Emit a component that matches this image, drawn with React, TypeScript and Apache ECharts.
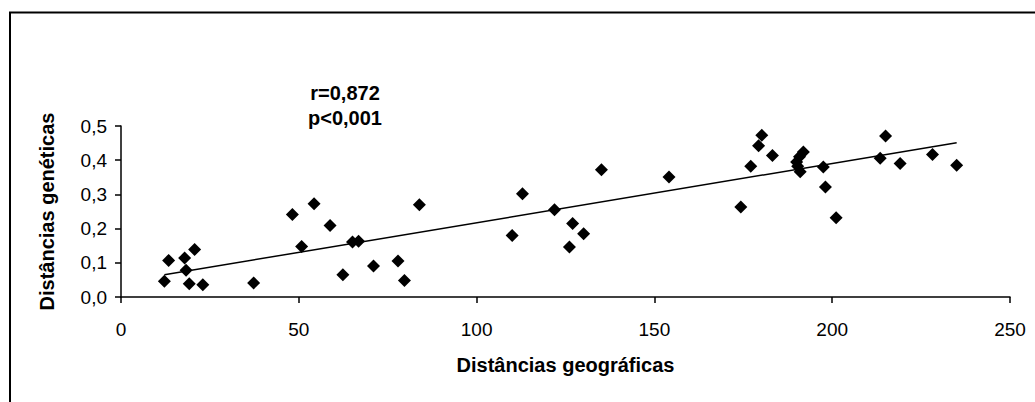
import React, { useEffect, useRef } from "react";
import * as echarts from "echarts";

const geoDist: number[] = [
  12.2, 13.4, 17.9, 18.3, 20.7, 19.2, 23.0, 37.3, 48.2, 50.8,
  54.3, 58.8, 65.1, 66.8, 62.4, 71.0, 77.9, 79.7, 83.9, 110.0,
  112.9, 121.9, 127.0, 130.1, 126.1, 135.1, 154.1, 174.3, 177.1, 179.3,
  180.2, 183.2, 190.0, 190.8, 191.9, 191.0, 190.3, 197.5, 198.1, 201.1,
  208.3, 213.5, 215.0, 219.1, 228.2, 235.0,
];
const genDist: number[] = [
  0.046, 0.107, 0.114, 0.078, 0.139, 0.039, 0.036, 0.041, 0.241, 0.148,
  0.273, 0.209, 0.161, 0.163, 0.065, 0.091, 0.105, 0.048, 0.270, 0.180,
  0.302, 0.255, 0.215, 0.185, 0.146, 0.372, 0.351, 0.263, 0.382, 0.442,
  0.473, 0.414, 0.395, 0.410, 0.424, 0.366, 0.382, 0.380, 0.322, 0.232,
  0.502, 0.406, 0.471, 0.390, 0.417, 0.385,
];
const trendX: number[] = [12.2, 235.0];
const trendY: number[] = [0.065, 0.451];
const xTicks: number[] = [0, 50, 100, 150, 200, 250];
const yTicks: number[] = [0, 0.1, 0.2, 0.3, 0.4, 0.5];
const statLines: string[] = ["r=0,872", "p<0,001"];

const FONT = "'Liberation Sans', Arial, sans-serif";

export default function App() {
  const ref = useRef<HTMLDivElement>(null);
  useEffect(() => {
    document.body.style.margin = "0";
    if (!ref.current) return;
    const chart = echarts.init(ref.current, null, { renderer: "svg" });
    const points = geoDist.map((x, i) => [x, genDist[i]]);
    const trend = trendX.map((x, i) => [x, trendY[i]]);
    chart.setOption({
      animation: false,
      backgroundColor: "#ffffff",
      textStyle: { fontFamily: FONT },
      grid: { left: 121, right: 25, top: 126, bottom: 105 },
      xAxis: {
        type: "value",
        min: xTicks[0],
        max: xTicks[xTicks.length - 1],
        interval: 50,
        name: "Distâncias geográficas",
        nameLocation: "middle",
        nameGap: 58,
        nameTextStyle: { fontFamily: FONT, fontSize: 20, fontWeight: "bold", color: "#000" },
        axisLine: { show: true, lineStyle: { color: "#000", width: 1.5 } },
        axisTick: { show: true, inside: false, length: 6, lineStyle: { color: "#000", width: 1.5 } },
        axisLabel: { fontFamily: FONT, fontSize: 19, color: "#000", margin: 23 },
        splitLine: { show: false },
      },
      yAxis: {
        type: "value",
        min: yTicks[0],
        max: yTicks[yTicks.length - 1],
        interval: 0.1,
        name: "Distâncias genéticas",
        nameLocation: "middle",
        nameGap: 64,
        nameTextStyle: { fontFamily: FONT, fontSize: 20, fontWeight: "bold", color: "#000" },
        axisLine: { show: true, lineStyle: { color: "#000", width: 1.5 } },
        axisTick: { show: true, inside: false, length: 6, lineStyle: { color: "#000", width: 1.5 } },
        axisLabel: {
          fontFamily: FONT,
          fontSize: 19,
          color: "#000",
          margin: 14,
          formatter: (v: number) => v.toFixed(1).replace(".", ","),
        },
        splitLine: { show: false },
      },
      graphic: [
        {
          type: "rect",
          shape: { x: 10, y: 12.5, width: 1100, height: 500 },
          style: { fill: "none", stroke: "#000", lineWidth: 2 },
          z: 100,
        },
        {
          type: "text",
          x: 345,
          y: 93,
          style: {
            text: statLines[0],
            fontFamily: FONT,
            fontSize: 20,
            fontWeight: "bold",
            fill: "#000",
            align: "center",
            verticalAlign: "middle",
          },
        },
        {
          type: "text",
          x: 345,
          y: 118,
          style: {
            text: statLines[1],
            fontFamily: FONT,
            fontSize: 20,
            fontWeight: "bold",
            fill: "#000",
            align: "center",
            verticalAlign: "middle",
          },
        },
      ],
      series: [
        {
          type: "scatter",
          data: points,
          symbol: "diamond",
          symbolSize: [13, 13],
          itemStyle: { color: "#000", opacity: 1 },
          z: 3,
        },
        {
          type: "line",
          data: trend,
          showSymbol: false,
          symbol: "none",
          lineStyle: { color: "#000", width: 1.5 },
          z: 2,
        },
      ],
    });
    return () => chart.dispose();
  }, []);
  return <div ref={ref} style={{ width: 1035, height: 402 }} />;
}
